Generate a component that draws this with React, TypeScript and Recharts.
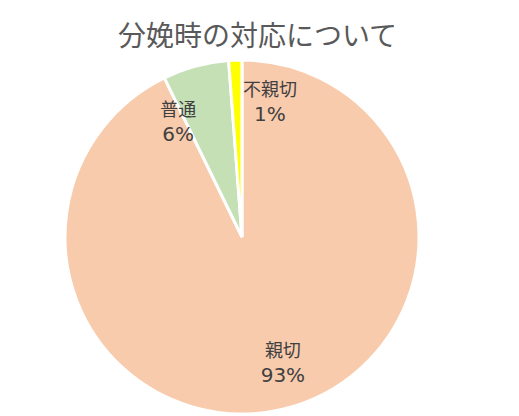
import { PieChart, Pie, Cell } from 'recharts'

const categories = ['親切', '普通', '不親切']
const counts = [77, 5, 1]
const colors = ['#F8CBAD', '#C5E0B4', '#FFFF00']

// nudges so the labels sit where the original put them
const labelShift: Record<string, [number, number]> = {
  '親切': [11, -3],
  '普通': [-29, 13],
  '不親切': [33, -2],
}

const RADIAN = Math.PI / 180
const total = counts.reduce((a, b) => a + b, 0)
const chartData = categories.map((name, i) => ({ name, value: counts[i] }))

const renderLabel = (props: any) => {
  const { cx, cy, midAngle, outerRadius, name, value } = props
  const r = outerRadius * 0.75
  const [dx, dy] = labelShift[name] || [0, 0]
  const x = cx + r * Math.cos(-midAngle * RADIAN) + dx
  const y = cy + r * Math.sin(-midAngle * RADIAN) + dy
  const pct = Math.round((value / total) * 100) + '%'
  return (
    <text x={x} y={y} fill="#404040" fontSize={18} textAnchor="middle" fontFamily="'Noto Sans CJK JP', sans-serif">
      <tspan x={x} dy={-6}>{name}</tspan>
      <tspan x={x} dy={25} fontSize={20} fontFamily="'DejaVu Sans', sans-serif">{pct}</tspan>
    </text>
  )
}

export default function App() {
  return (
    <div style={{ position: 'relative', width: 519, height: 416, background: '#fff' }}>
      <style>{'body{margin:0}'}</style>
      <div
        style={{
          position: 'absolute',
          top: 14,
          left: 0,
          width: 515,
          textAlign: 'center',
          fontSize: 28,
          lineHeight: '40px',
          color: '#595959',
          fontFamily: "'Noto Sans CJK JP', sans-serif",
        }}
      >
        分娩時の対応について
      </div>
      <PieChart width={519} height={416} margin={{ top: 0, right: 0, bottom: 0, left: 0 }}>
        <Pie
          data={chartData}
          dataKey="value"
          nameKey="name"
          cx={242}
          cy={237}
          outerRadius={177}
          startAngle={90}
          endAngle={-270}
          stroke="#fff"
          strokeWidth={3}
          label={renderLabel}
          labelLine={false}
          isAnimationActive={false}
        >
          {chartData.map((d, i) => (
            <Cell key={d.name} fill={colors[i]} />
          ))}
        </Pie>
      </PieChart>
    </div>
  )
}
